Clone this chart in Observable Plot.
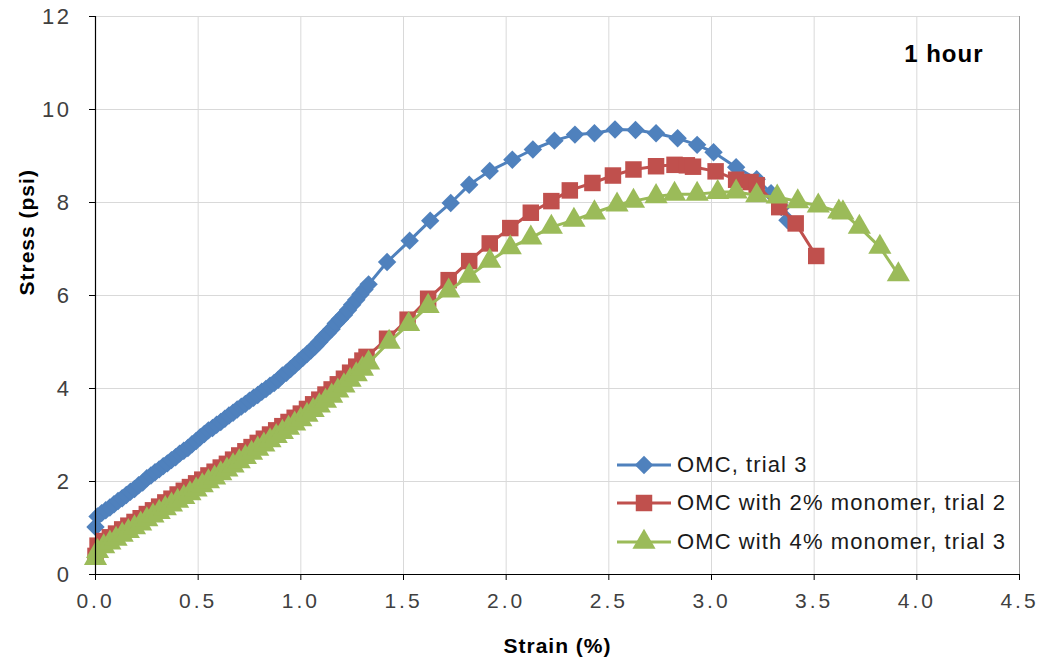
<!DOCTYPE html>
<html><head><meta charset="utf-8">
<script src="https://cdn.jsdelivr.net/npm/d3@7"></script>
<script src="https://cdn.jsdelivr.net/npm/@observablehq/plot@0.6"></script>
<style>
body{margin:0;background:#fff;}
#wrap{position:relative;width:1042px;height:666px;font-family:"Liberation Sans",Arial,sans-serif;}
#legend{position:absolute;left:0;top:0;}
.lrow{position:absolute;left:616px;height:30px;display:flex;align-items:center;font-size:22px;letter-spacing:1.1px;color:#1a1a1a;white-space:nowrap;}
.lrow svg{margin-right:5px;}
</style></head><body><div id="wrap"></div>
<script>
// ---- data ----
const seriesNames = ["OMC, trial 3", "OMC with 2% monomer, trial 2", "OMC with 4% monomer, trial 3"];
const seriesColors = ["#4F81BD", "#C0504D", "#9BBB59"];
const seriesSymbols = ["diamond2", "square", "triangle"];
const xTicks = [0, 0.5, 1, 1.5, 2, 2.5, 3, 3.5, 4, 4.5];
const yTicks = [0, 2, 4, 6, 8, 10, 12];
const panelLabel = "1 hour";
const xTitle = "Strain (%)";
const yTitle = "Stress (psi)";

const omcStrain = [0.00,0.01,0.03,0.05,0.07,0.09,0.11,0.13,0.15,0.17,0.19,0.21,0.23,0.25,0.27,0.29,0.31,0.33,0.35,0.37,0.39,0.41,0.43,0.45,0.47,0.49,0.51,0.53,0.55,0.57,0.59,0.61,0.63,0.65,0.67,0.69,0.71,0.73,0.75,0.77,0.79,0.81,0.83,0.85,0.87,0.89,0.91,0.93,0.95,0.97,0.99,1.01,1.03,1.05,1.07,1.09,1.11,1.13,1.15,1.17,1.19,1.21,1.23,1.25,1.27,1.29,1.31,1.33,
  1.42,1.53,1.63,1.73,1.82,1.92,2.03,2.13,2.235,2.335,2.43,2.53,2.63,2.73,2.835,2.93,3.01,3.12,3.22,3.29,3.34,3.37];
const omcStress = [1.02,1.25,1.32,1.38,1.44,1.51,1.58,1.64,1.71,1.78,1.84,1.92,1.98,2.07,2.13,2.20,2.26,2.33,2.39,2.46,2.52,2.60,2.66,2.72,2.80,2.87,2.95,3.02,3.10,3.15,3.22,3.28,3.35,3.42,3.48,3.55,3.61,3.67,3.74,3.80,3.86,3.93,3.99,4.06,4.12,4.19,4.28,4.34,4.42,4.50,4.58,4.66,4.74,4.82,4.91,5.00,5.10,5.19,5.28,5.40,5.49,5.58,5.69,5.80,5.91,6.02,6.13,6.24,
  6.72,7.18,7.61,7.99,8.38,8.68,8.92,9.14,9.33,9.46,9.49,9.57,9.56,9.49,9.38,9.24,9.08,8.76,8.50,8.20,7.90,7.62];

const m2Strain = [0.00,0.01,0.04,0.07,0.10,0.13,0.16,0.19,0.22,0.25,0.28,0.31,0.34,0.37,0.40,0.43,0.46,0.49,0.52,0.55,0.58,0.61,0.64,0.67,0.70,0.73,0.76,0.79,0.82,0.85,0.88,0.91,0.94,0.97,1.00,1.03,1.06,1.09,1.12,1.15,1.18,1.21,1.24,1.27,1.30,1.32,
  1.42,1.52,1.62,1.72,1.82,1.92,2.02,2.12,2.22,2.31,2.42,2.52,2.62,2.73,2.82,2.88,2.91,3.02,3.12,3.19,3.22,3.33,3.41,3.51];
const m2Stress = [0.40,0.62,0.72,0.80,0.88,0.97,1.05,1.13,1.21,1.30,1.38,1.46,1.55,1.63,1.72,1.80,1.88,1.96,2.04,2.13,2.21,2.30,2.38,2.47,2.56,2.65,2.74,2.83,2.92,3.01,3.10,3.19,3.28,3.37,3.46,3.56,3.66,3.76,3.87,3.98,4.09,4.21,4.34,4.47,4.60,4.68,
  5.07,5.48,5.93,6.33,6.74,7.12,7.45,7.78,8.03,8.26,8.42,8.58,8.71,8.78,8.81,8.80,8.77,8.67,8.49,8.44,8.37,7.90,7.55,6.85];

const m4Strain = [0.00,0.01,0.04,0.07,0.10,0.13,0.16,0.19,0.22,0.25,0.28,0.31,0.34,0.37,0.40,0.43,0.46,0.49,0.52,0.55,0.58,0.61,0.64,0.67,0.70,0.73,0.76,0.79,0.82,0.85,0.88,0.91,0.94,0.97,1.00,1.03,1.06,1.09,1.12,1.15,1.18,1.21,1.24,1.27,1.30,1.33,
  1.43,1.525,1.62,1.72,1.82,1.92,2.02,2.12,2.22,2.33,2.43,2.54,2.62,2.73,2.82,2.93,3.03,3.12,3.22,3.32,3.42,3.52,3.62,3.64,3.72,3.82,3.91];
const m4Stress = [0.35,0.50,0.60,0.68,0.76,0.85,0.93,1.01,1.09,1.18,1.26,1.34,1.42,1.50,1.58,1.66,1.74,1.82,1.91,2.00,2.08,2.17,2.25,2.34,2.43,2.52,2.61,2.70,2.79,2.88,2.97,3.06,3.15,3.24,3.33,3.43,3.53,3.63,3.73,3.84,3.95,4.06,4.18,4.30,4.42,4.55,
  5.00,5.38,5.77,6.10,6.42,6.74,7.03,7.24,7.47,7.62,7.78,7.95,8.03,8.13,8.18,8.18,8.22,8.23,8.15,8.12,8.02,7.93,7.80,7.78,7.47,7.04,6.45];

// ---- build tables ----
const strains = [omcStrain, m2Strain, m4Strain];
const stresses = [omcStress, m2Stress, m4Stress];
const tables = strains.map((xs, i) => xs.map((x, j) => ({strain: x, stress: stresses[i][j], series: seriesNames[i]})));
const markerR = [8.3, 9.3, 8.6];

const seriesMarks = tables.flatMap((t, i) => [
  Plot.line(t, {x: "strain", y: "stress", stroke: seriesColors[i], strokeWidth: 3}),
  Plot.dot(t, {x: "strain", y: "stress", symbol: () => seriesSymbols[i], fill: seriesColors[i], r: markerR[i], stroke: "none"})
]);

const chart = Plot.plot({
  width: 1042, height: 666,
  marginLeft: 95, marginRight: 23, marginTop: 16, marginBottom: 92,
  x: {domain: [xTicks[0], xTicks[xTicks.length - 1]]},
  y: {domain: [yTicks[0], yTicks[yTicks.length - 1]]},
  symbol: {type: "identity"},
  style: {fontFamily: "Liberation Sans, Arial, sans-serif", fontSize: "20px", background: "#fff", overflow: "visible"},
  marks: [
    Plot.gridX(xTicks.slice(1, -1), {stroke: "#d9d9d9", strokeOpacity: 1, strokeWidth: 1}),
    Plot.gridY(yTicks.slice(1), {stroke: "#d9d9d9", strokeOpacity: 1, strokeWidth: 1}),
    Plot.ruleX(xTicks.slice(-1), {stroke: "#9a9a9a", strokeWidth: 1}),
    Plot.axisX(xTicks, {tickFormat: d => d.toFixed(1), tickSize: 6, tickPadding: 13, label: null, stroke: "#000", fill: "#404040", fontSize: 21}),
    Plot.axisY(yTicks, {tickSize: 6, tickPadding: 18, label: null, stroke: "#000", fill: "#404040", fontSize: 22}),
    ...seriesMarks,
    Plot.ruleX(xTicks.slice(0, 1), {stroke: "#000", strokeWidth: 1.2}),
    Plot.ruleY(yTicks.slice(0, 1), {stroke: "#000", strokeWidth: 1.2}),
    Plot.text([panelLabel], {frameAnchor: "top-right", dx: -36, dy: 28, fontWeight: "bold", fontSize: 24, fill: "#000", text: d => d}),
    Plot.text([yTitle], {frameAnchor: "left", rotate: -90, dx: -68, fontWeight: "bold", fontSize: 21, fill: "#000", text: d => d}),
    Plot.text([xTitle], {frameAnchor: "bottom", dy: 78, fontWeight: "bold", fontSize: 21, fill: "#000", text: d => d})
  ]
});

const wrap = document.getElementById("wrap");
wrap.appendChild(chart);

// letter spacing on tick labels (Calibri-like look)
d3.select(chart).selectAll('g[aria-label="x-axis tick label"] text').style("letter-spacing", "3px");
d3.select(chart).selectAll('g[aria-label="y-axis tick label"] text').style("letter-spacing", "2.5px");
d3.select(chart).selectAll('g[aria-label="text"] text').style("letter-spacing", "1px");

// ---- legend (HTML overlay) ----
const legendTops = [450, 488, 527];
const legend = document.createElement("div");
legend.id = "legend";
seriesNames.forEach((name, i) => {
  const row = document.createElement("div");
  row.className = "lrow";
  row.style.top = legendTops[i] + "px";
  const sw = d3.create("svg").attr("width", 56).attr("height", 30);
  sw.append("line").attr("x1", 1).attr("x2", 55).attr("y1", 15).attr("y2", 15)
    .attr("stroke", seriesColors[i]).attr("stroke-width", 3);
  const symMap = {diamond2: d3.symbolDiamond2, square: d3.symbolSquare, triangle: d3.symbolTriangle};
  sw.append("path").attr("transform", "translate(28,15)")
    .attr("d", d3.symbol(symMap[seriesSymbols[i]], markerR[i] * markerR[i] * Math.PI)())
    .attr("fill", seriesColors[i]);
  row.appendChild(sw.node());
  const span = document.createElement("span");
  span.textContent = name;
  row.appendChild(span);
  legend.appendChild(row);
});
wrap.appendChild(legend);
</script>
</body></html>
